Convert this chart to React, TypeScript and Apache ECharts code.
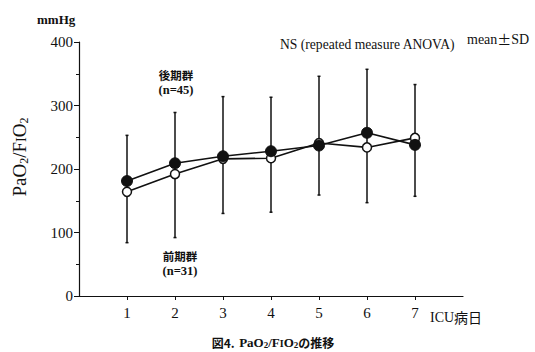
import React, { useEffect, useRef } from "react";
import * as echarts from "echarts";

const days = [1, 2, 3, 4, 5, 6, 7];
const lateGroup = [181, 209, 220, 228, 237, 257, 238]; // 後期群 (filled)
const earlyGroup = [164, 192, 216, 217, 241, 234, 249]; // 前期群 (open)
const sdUpper = [253, 289, 314, 313, 346, 357, 333];
const sdLower = [84, 92, 130, 132, 159, 147, 157];
const yTicks = [0, 100, 200, 300, 400];

const serif = "'Liberation Serif', 'DejaVu Serif', serif";
const cjk = "'Noto Sans CJK JP', sans-serif";
const ink = "#111";

export default function App() {
  const ref = useRef<HTMLDivElement>(null);
  useEffect(() => {
    const chart = echarts.init(ref.current!, null, { renderer: "svg" });
    const errData = days.map((d, i) => [d, sdLower[i], sdUpper[i]]);
    const label = (text: string, x: number, y: number, font: string, size: number) => ({
      type: "text",
      x,
      y,
      style: {
        text,
        align: "center",
        verticalAlign: "middle",
        fontFamily: font,
        fontSize: size,
        lineHeight: 12,
        fontWeight: "bold",
        fill: ink,
      },
    });
    chart.setOption({
      animation: false,
      backgroundColor: "#ffffff",
      grid: { left: 79, top: 42, right: 72, bottom: 56 },
      xAxis: {
        type: "value",
        min: 0,
        max: 8,
        interval: 1,
        splitLine: { show: false },
        axisLine: { show: true, lineStyle: { color: ink, width: 1.2 } },
        axisTick: { show: true, customValues: days, length: 4, lineStyle: { color: ink } },
        axisLabel: {
          customValues: days,
          color: ink,
          fontFamily: serif,
          fontSize: 15,
          margin: 9,
        },
      },
      yAxis: {
        type: "value",
        min: 0,
        max: 400,
        interval: 100,
        splitLine: { show: false },
        axisLine: { show: true, lineStyle: { color: ink, width: 1.2 } },
        axisTick: { show: true, length: 5, lineStyle: { color: ink } },
        minorTick: { show: true, splitNumber: 2, length: 3, lineStyle: { color: ink } },
        axisLabel: {
          customValues: yTicks,
          color: ink,
          fontFamily: serif,
          fontSize: 15,
          margin: 6,
        },
      },
      series: [
        {
          type: "custom",
          z: 1,
          data: errData,
          renderItem: (params: any, api: any) => {
            const x = api.value(0);
            const lo = api.coord([x, api.value(1)]);
            const hi = api.coord([x, api.value(2)]);
            const style = { stroke: ink, lineWidth: 1.5 };
            return {
              type: "group",
              children: [
                { type: "line", shape: { x1: lo[0], y1: lo[1], x2: hi[0], y2: hi[1] }, style },
                { type: "line", shape: { x1: lo[0] - 1.5, y1: lo[1], x2: lo[0] + 1.5, y2: lo[1] }, style },
                { type: "line", shape: { x1: hi[0] - 1.5, y1: hi[1], x2: hi[0] + 1.5, y2: hi[1] }, style },
              ],
            };
          },
        },
        {
          type: "line",
          z: 3,
          data: days.map((d, i) => [d, earlyGroup[i]]),
          symbol: "circle",
          symbolSize: 9,
          lineStyle: { color: ink, width: 1.6 },
          itemStyle: { color: "#ffffff", borderColor: ink, borderWidth: 1.5 },
        },
        {
          type: "line",
          z: 4,
          data: days.map((d, i) => [d, lateGroup[i]]),
          symbol: "circle",
          symbolSize: 11,
          lineStyle: { color: ink, width: 1.6 },
          itemStyle: { color: ink, borderColor: ink, borderWidth: 1 },
        },
      ],
      graphic: [
        { type: "text", left: 37, top: 13, style: { text: "mmHg", fontFamily: serif, fontSize: 13, fontWeight: "bold", fill: ink } },
        {
          type: "text",
          x: 19,
          y: 157,
          rotation: Math.PI / 2,
          style: {
            text: "{a|PaO}{s|2}{a|/F}{i|I}{a|O}{s|2}",
            align: "center",
            verticalAlign: "middle",
            fill: ink,
            rich: {
              a: { fontFamily: serif, fontSize: 19, fill: ink },
              s: { fontFamily: serif, fontSize: 12, fill: ink, padding: [9, 0, 0, 0] },
              i: { fontFamily: serif, fontSize: 14, fill: ink, padding: [4, 0, 0, 0] },
            },
          },
        },
        { type: "text", left: 280, top: 37, style: { text: "NS (repeated measure ANOVA)", fontFamily: serif, fontSize: 13.6, fill: ink } },
        {
          type: "text",
          left: 467,
          top: 32,
          style: {
            text: "{a|mean}{b|±}{a|SD}",
            rich: {
              a: { fontFamily: serif, fontSize: 14, fill: ink },
              b: { fontFamily: cjk, fontSize: 14, fill: ink },
            },
          },
        },
        label("後期群", 176, 75, cjk, 11.5),
        label("(n=45)", 176, 89.5, serif, 12.5),
        label("前期群", 180, 256, cjk, 11.5),
        label("(n=31)", 180, 271, serif, 12.5),
        {
          type: "text",
          left: 430,
          top: 310,
          style: {
            text: "{a|ICU}{b|病日}",
            rich: {
              a: { fontFamily: serif, fontSize: 14, fill: ink },
              b: { fontFamily: cjk, fontSize: 14, fill: ink },
            },
          },
        },
        {
          type: "text",
          x: 273,
          y: 342,
          style: {
            text: "{c|図4.}{g|  }{a|PaO}{s|2}{a|/F}{i|I}{a|O}{s|2}{c|の推移}",
            align: "center",
            verticalAlign: "middle",
            rich: {
              c: { fontFamily: cjk, fontSize: 12, fontWeight: "bold", fill: ink },
              g: { fontSize: 8 },
              a: { fontFamily: serif, fontSize: 13, fontWeight: "bold", fill: ink },
              s: { fontFamily: serif, fontSize: 9, fontWeight: "bold", fill: ink, padding: [5, 0, 0, 0] },
              i: { fontFamily: serif, fontSize: 10, fontWeight: "bold", fill: ink, padding: [2, 0, 0, 0] },
            },
          },
        },
      ],
    });
    return () => chart.dispose();
  }, []);
  return <div ref={ref} style={{ width: 535, height: 352, position: "absolute", left: 0, top: 0 }} />;
}
